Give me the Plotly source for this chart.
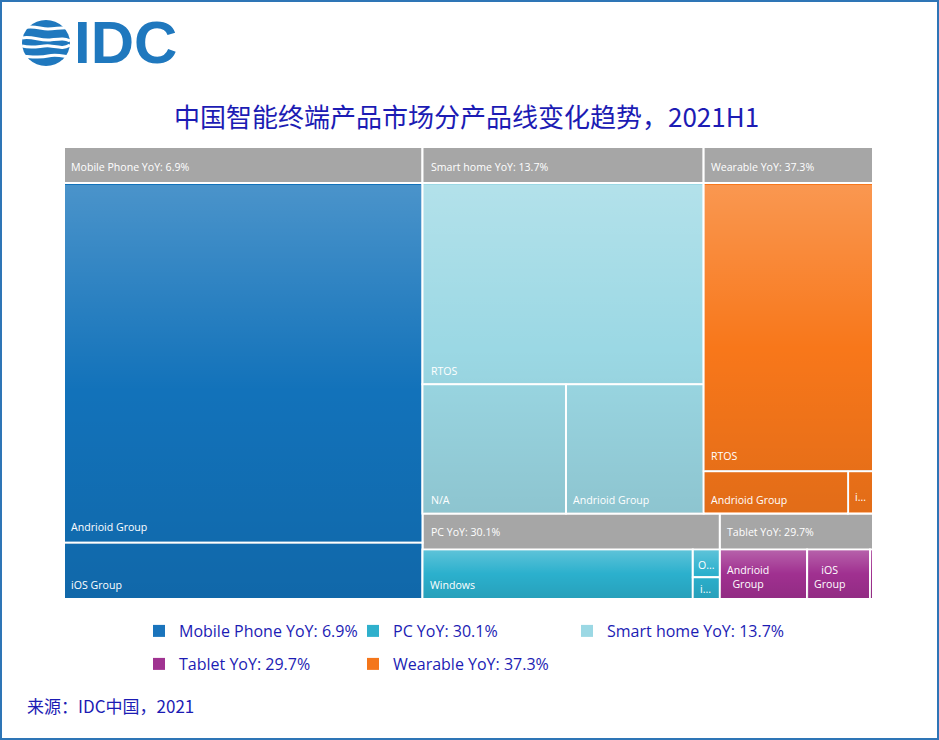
import base64
import plotly.graph_objects as go

W, H = 939, 740
TITLE = "中国智能终端产品市场分产品线变化趋势，2021H1"
SOURCE = "来源：IDC中国，2021"
INK = "#1c1cb4"
HEADER_H = 36

groups = ["Mobile Phone YoY: 6.9%", "Smart home YoY: 13.7%", "Wearable YoY: 37.3%",
          "PC YoY: 30.1%", "Tablet YoY: 29.7%"]
group_colors = ["#1272ba", "#9bd8e4", "#f8771a", "#2bb0cd", "#a03090"]
mobile_labels = ["Andrioid Group", "iOS Group"]
mobile_values = [38.35, 5.99]
smart_labels = ["RTOS", "N/A", "Andrioid Group"]
smart_values = [17.17, 5.63, 5.40]
wear_labels = ["RTOS", "Andrioid Group", "i..."]
wear_values = [14.82, 1.85, 0.32]
pc_labels = ["Windows", "O...", "i..."]
pc_values = [6.32, 0.355, 0.278]
tablet_labels = ["Andrioid<br>Group", "iOS<br>Group", " "]
tablet_values = [2.04, 1.47, 0.07]
legend_row1 = [("Mobile Phone YoY: 6.9%", "#1a74bc", "legend"), ("PC YoY: 30.1%", "#2fb0cc", "legend"),
               ("Smart home YoY: 13.7%", "#9bd8e4", "legend3")]
legend_row2 = [("Tablet YoY: 29.7%", "#a03391", "legend2"), ("Wearable YoY: 37.3%", "#f4761b", "legend2")]

children = [(mobile_labels, mobile_values), (smart_labels, smart_values), (wear_labels, wear_values),
            (pc_labels, pc_values), (tablet_labels, tablet_values)]
ids, labels, parents, values, colors, hovers = [], [], [], [], [], []
for g, col, (ls, vs) in zip(groups, group_colors, children):
    ids.append(g); labels.append(" "); parents.append(""); values.append(round(sum(vs), 3))
    colors.append("#a6a6a6"); hovers.append(g)
    for l, v in zip(ls, vs):
        ids.append(g + "/" + l); labels.append(l); parents.append(g); values.append(v)
        colors.append(col); hovers.append(l)

fig = go.Figure()
fig.add_trace(go.Treemap(
    ids=ids, labels=labels, parents=parents, values=values, branchvalues="total", sort=False,
    # the implicit root also reserves the header band, so the domain starts one band higher
    domain=dict(x=[64 / W, 873 / W], y=[1 - 599 / H, 1 - (147 - HEADER_H) / H]),
    marker=dict(colors=colors, line=dict(color="white", width=2), pad=dict(t=HEADER_H, l=0, r=0, b=0)),
    tiling=dict(packing="squarify", squarifyratio=1.618, pad=0),
    pathbar=dict(visible=False), root=dict(color="rgba(0,0,0,0)"),
    textinfo="none", hovertext=hovers, hoverinfo="text+value",
))

for name, color, leg in legend_row1 + legend_row2:
    fig.add_trace(go.Scatter(x=[None], y=[None], mode="markers", name=name, legend=leg, showlegend=True,
                             marker=dict(symbol="square", size=12, color=color)))

def legend_at(x, y, entry=169):
    return dict(orientation="h", x=x / W, xanchor="left", y=1 - y / H, yanchor="middle",
                entrywidth=entry, entrywidthmode="pixels", bgcolor="rgba(0,0,0,0)",
                font=dict(family="Open Sans", size=16, color=INK), itemclick=False, itemdoubleclick=False)

def note(text, x, y, size=10.6, family="Open Sans", color="white", anchor="left"):
    return dict(text=text, x=x / W, y=1 - y / H, xref="paper", yref="paper", showarrow=False, xanchor=anchor,
                yanchor="middle", align="center" if anchor == "center" else "left",
                font=dict(family=family, size=size, color=color))

cell_text = [
    ("Mobile Phone YoY: 6.9%", 69, 167), ("Smart home YoY: 13.7%", 429, 167), ("Wearable YoY: 37.3%", 709, 167),
    ("PC YoY: 30.1%", 429, 532), ("Tablet YoY: 29.7%", 725, 532),
    ("Andrioid Group", 69, 527), ("iOS Group", 69, 585),
    ("RTOS", 429, 371), ("N/A", 429, 500), ("Andrioid Group", 571, 500),
    ("RTOS", 709, 456), ("Andrioid Group", 709, 500), ("i...", 853, 497),
    ("Windows", 428, 585), ("O...", 696, 565), ("i...", 698, 589),
]
notes = [note(*t) for t in cell_text]
notes += [note("Andrioid<br>Group", 748, 577, anchor="center"), note("iOS<br>Group", 829, 577, anchor="center")]
notes += [
    note(TITLE, 466.5, 116, 26, "Noto Sans CJK SC", INK, "center"),
    note(SOURCE, 25, 705, 17, "Noto Sans CJK SC", INK),
    note("<b>IDC</b>", 72, 43, 60, "Liberation Sans", "#1f78be"),
]

# vertical shading that runs across each group's cells, laid over the treemap in treemap-area pixels
shade_bands = {"a": (36, 450), "b": (36, 365), "c": (402, 450)}
shade_cells = [
    ("a", 0, 37, 356, 357), ("a", 0, 395, 356, 55),
    ("b", 358, 37, 280, 199), ("b", 358, 237, 142, 128), ("b", 502, 237, 136, 128),
    ("b", 639, 37, 168, 286), ("b", 639, 324, 144, 40), ("b", 785, 324, 22, 40),
    ("c", 358, 403, 269, 47), ("c", 628, 403, 26, 26), ("c", 628, 430, 26, 20),
    ("c", 655, 403, 86, 47), ("c", 742, 403, 62, 47), ("c", 805, 403, 2, 47),
]
stops = (
    '<stop offset="0" stop-color="#fff" stop-opacity="0.24"/>'
    '<stop offset="0.5" stop-color="#fff" stop-opacity="0"/>'
    '<stop offset="0.5" stop-color="#000" stop-opacity="0"/>'
    '<stop offset="1" stop-color="#000" stop-opacity="0.09"/>'
)
defs = "".join(
    f'<linearGradient id="{k}" gradientUnits="userSpaceOnUse" x1="0" y1="{y0}" x2="0" y2="{y1}">{stops}</linearGradient>'
    for k, (y0, y1) in shade_bands.items()
)
rects = "".join(f'<rect x="{x}" y="{y}" width="{w}" height="{h}" fill="url(#{k})"/>' for k, x, y, w, h in shade_cells)
shade_svg = (
    '<svg xmlns="http://www.w3.org/2000/svg" width="807" height="450" viewBox="0 0 807 450">'
    f'<defs>{defs}</defs>{rects}</svg>'
)
globe_svg = (
    '<svg xmlns="http://www.w3.org/2000/svg" width="48" height="46" viewBox="0 0 48 46">'
    '<ellipse cx="24" cy="23" rx="24" ry="23" fill="#1f78be"/>'
    '<g fill="none" stroke="#fff" stroke-width="3">'
    '<path d="M0 8 C12 5 18 9 26 9 S40 7 48 8"/>'
    '<path d="M0 18 C10 16 18 21 28 20 S42 18 48 21"/>'
    '<path d="M0 26 C12 29 20 25 28 26 S42 29 48 25"/>'
    '<path d="M0 36 C12 37 18 38 26 36 S40 36 48 37"/>'
    '</g></svg>'
)
def uri(svg):
    return "data:image/svg+xml;base64," + base64.b64encode(svg.encode()).decode()

fig.update_layout(
    width=W, height=H, margin=dict(l=0, r=0, t=0, b=0, autoexpand=False), paper_bgcolor="white", plot_bgcolor="white",
    xaxis=dict(visible=False), yaxis=dict(visible=False),
    legend=legend_at(139, 631), legend2=legend_at(139, 664), legend3=legend_at(567, 631, 220),
    annotations=notes,
    images=[
        dict(source=uri(shade_svg), xref="paper", yref="paper", x=65 / W, y=1 - 148 / H, sizex=807 / W, sizey=450 / H,
             xanchor="left", yanchor="top", sizing="stretch", layer="above"),
        dict(source=uri(globe_svg), xref="paper", yref="paper", x=22 / W, y=1 - 20 / H, sizex=48 / W, sizey=46 / H,
             xanchor="left", yanchor="top", sizing="stretch", layer="above"),
    ],
    shapes=[
        dict(type="rect", xref="paper", yref="paper", x0=1 / W, x1=938 / W, y0=1 / H, y1=739 / H,
             line=dict(color="#2e75b6", width=2), fillcolor="rgba(0,0,0,0)"),
    ],
)
fig.write_html("out.html", config=dict(displayModeBar=False), post_script="document.body.style.margin='0';")
